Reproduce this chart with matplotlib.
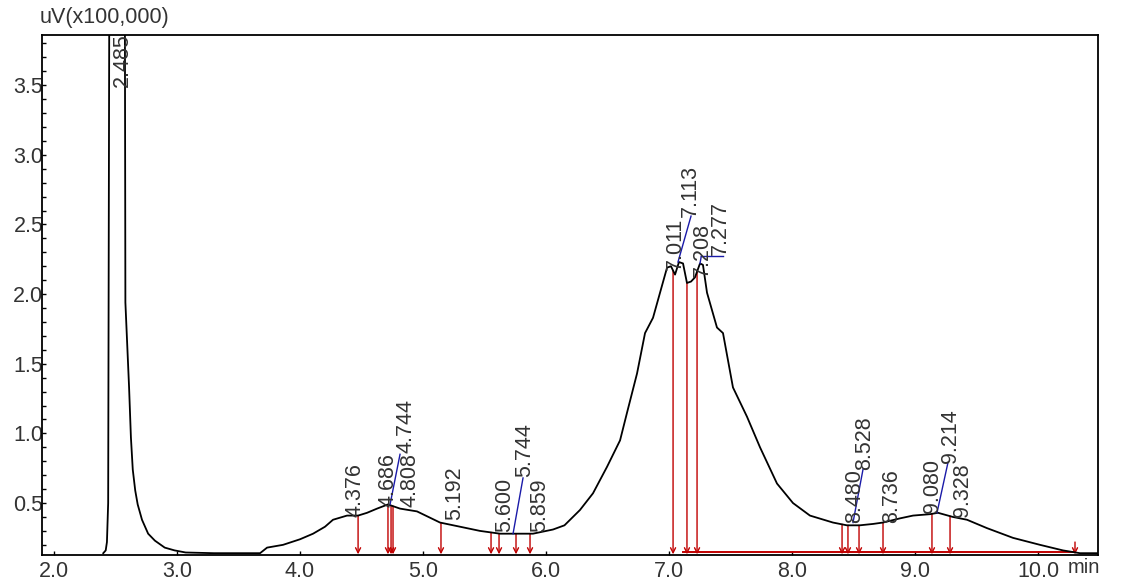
import numpy as np
import matplotlib
matplotlib.use("Agg")
import matplotlib.pyplot as plt

plt.rcParams['font.family'] = ['Liberation Sans', 'DejaVu Sans']

# chromatogram trace (min, uV x100,000)
time = [2.40, 2.42, 2.43, 2.44, 2.45, 2.485, 2.575, 2.58, 2.61, 2.625, 2.64,
        2.66, 2.68, 2.715, 2.765, 2.82, 2.90, 2.98, 3.07, 3.30, 3.60, 3.675,
        3.732, 3.862, 4.00, 4.106, 4.203, 4.268, 4.382, 4.472, 4.545, 4.626,
        4.715, 4.813, 4.951, 5.138, 5.301, 5.463, 5.626, 5.732, 5.894, 6.057,
        6.15, 6.276, 6.382, 6.496, 6.602, 6.659, 6.740, 6.805, 6.870, 6.927,
        6.984, 7.016, 7.049, 7.081, 7.114, 7.146, 7.179, 7.211, 7.252, 7.276,
        7.309, 7.390, 7.439, 7.520, 7.634, 7.740, 7.878, 8.008, 8.146, 8.333,
        8.447, 8.550, 8.659, 8.740, 8.878, 8.984, 9.122, 9.187, 9.309, 9.423,
        9.585, 9.797, 10.016, 10.203, 10.341, 10.480]
signal = [0.14, 0.16, 0.22, 0.50, 4.50, 4.60, 4.50, 1.94, 1.33, 0.97, 0.74,
          0.59, 0.49, 0.38, 0.28, 0.23, 0.18, 0.16, 0.145, 0.14, 0.14, 0.14,
          0.18, 0.20, 0.24, 0.28, 0.33, 0.38, 0.41, 0.41, 0.43, 0.46,
          0.49, 0.46, 0.44, 0.36, 0.33, 0.30, 0.28, 0.28, 0.28, 0.31,
          0.34, 0.45, 0.57, 0.76, 0.95, 1.15, 1.43, 1.72, 1.83, 2.01,
          2.19, 2.20, 2.14, 2.23, 2.22, 2.08, 2.09, 2.12, 2.22, 2.21,
          2.01, 1.76, 1.72, 1.33, 1.12, 0.90, 0.64, 0.50, 0.41, 0.36,
          0.34, 0.34, 0.35, 0.36, 0.39, 0.41, 0.42, 0.43, 0.40, 0.38,
          0.32, 0.25, 0.20, 0.16, 0.14, 0.14]

# peak labels: text, label x, label bottom y
peak_names = ["2.485", "4.376", "4.686", "4.744", "4.808", "5.192", "5.600",
              "5.744", "5.859", "7.011", "7.113", "7.208", "7.277", "8.480",
              "8.528", "8.736", "9.080", "9.214", "9.328"]
label_x = [2.553, 4.447, 4.715, 4.862, 4.894, 5.260, 5.667, 5.829, 5.951,
           7.049, 7.171, 7.268, 7.415, 8.512, 8.593, 8.813, 9.146, 9.285, 9.390]
label_y = [3.49, 0.40, 0.47, 0.86, 0.47, 0.38, 0.29, 0.69, 0.29,
           2.17, 2.55, 2.12, 2.28, 0.36, 0.74, 0.36, 0.43, 0.79, 0.40]

# blue leader lines (x0, y0, x1, y1)
leaders = [(4.732, 0.49, 4.813, 0.85), (5.732, 0.28, 5.813, 0.68),
           (7.073, 2.23, 7.179, 2.56), (7.252, 2.22, 7.262, 2.27),
           (7.262, 2.27, 7.439, 2.27), (8.496, 0.36, 8.577, 0.74),
           (9.179, 0.43, 9.268, 0.79)]

# integration markers (red arrows)
marks = [4.472, 4.715, 4.740, 4.756, 5.146, 5.553, 5.618, 5.756, 5.870,
         7.033, 7.146, 7.228, 8.407, 8.455, 8.545, 8.740, 9.138, 9.285, 10.301]

ymin, ymax = 0.127, 3.86
txt_col = "#333333"
fs = 15.5

fig = plt.figure(figsize=(11.21, 5.80), dpi=100)
ax = fig.add_axes([42 / 1121, 25 / 580, 1056 / 1121, 520 / 580])

ax.plot(time, signal, color="black", lw=1.3, zorder=3)

# red baseline on the right part
ax.plot([7.114, 10.301], [0.145, 0.145], color="#c00000", lw=1.4, zorder=2)

for m in marks:
    top = np.interp(m, time, signal)
    if m > 10:
        top = 0.22
    ax.annotate("", xy=(m, ymin + 0.005), xytext=(m, top),
                arrowprops=dict(arrowstyle="->", color="#c00000", lw=1.0,
                                shrinkA=0, shrinkB=0, mutation_scale=9),
                zorder=2)

for x0, y0, x1, y1 in leaders:
    ax.plot([x0, x1], [y0, y1], color="#1a1aa8", lw=1.0, zorder=4)

for name, lx, ly in zip(peak_names, label_x, label_y):
    ax.text(lx, ly, name, rotation=90, ha="center", va="bottom",
            fontsize=fs, color=txt_col, zorder=5, clip_on=True)

ax.set_xlim(1.902, 10.488)
ax.set_ylim(ymin, ymax)
ax.set_xticks(np.arange(2.0, 10.01, 1.0))
ax.set_xticklabels([f"{v:.1f}" for v in np.arange(2.0, 10.01, 1.0)])
ax.set_yticks([0.5, 1.0, 1.5, 2.0, 2.5, 3.0, 3.5])
ax.set_yticks(np.arange(0.2, 3.85, 0.1), minor=True)
ax.tick_params(axis="y", which="both", direction="in", length=3, width=1.0,
               labelsize=fs, labelcolor=txt_col, pad=-1)
ax.tick_params(axis="x", which="both", direction="in", length=3, width=1.0,
               labelsize=fs, labelcolor=txt_col, pad=4)
for s in ax.spines.values():
    s.set_linewidth(1.3)

fig.text(40 / 1121, 1 - 18 / 580, "uV(x100,000)", ha="left", va="center",
         fontsize=fs, color=txt_col)
fig.text(1084 / 1121, 1 - 577 / 580, "min", ha="center", va="bottom",
         fontsize=fs - 1, color=txt_col)

fig.savefig("out.png", dpi=100)
